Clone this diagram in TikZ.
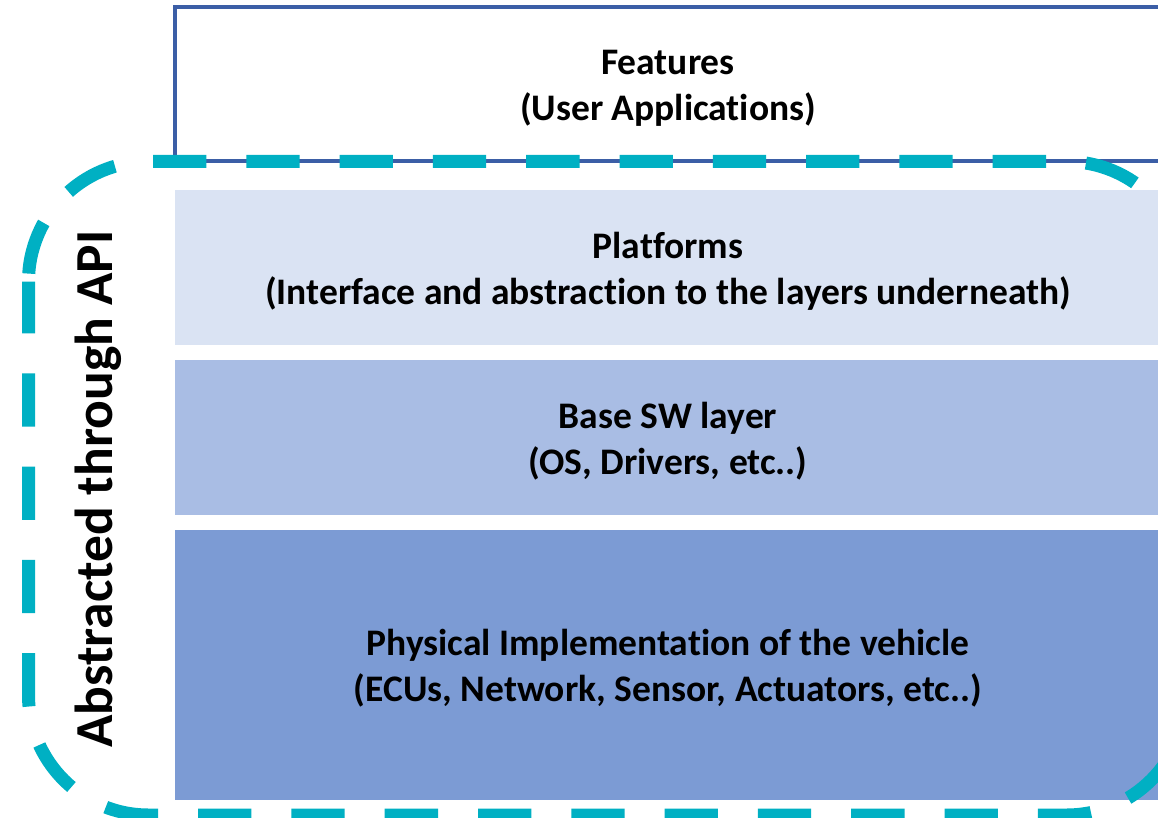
\documentclass[tikz,border=0pt]{standalone}
\usepackage{fontspec}
\setmainfont[Ligatures=NoCommon]{Carlito}
\definecolor{apicyan}{RGB}{0,176,195}
\definecolor{featblue}{RGB}{59,94,166}
\definecolor{platfill}{RGB}{218,227,243}
\definecolor{basefill}{RGB}{169,189,228}
\definecolor{physfill}{RGB}{124,155,212}
\tikzset{
  layer/.style={anchor=north west, draw=none, minimum width=986pt, inner sep=0pt, outer sep=0pt},
  featbox/.style={layer, draw=featblue, line width=4pt, fill=white},
  layertext/.style={align=center, font=\fontsize{37.5}{46}\selectfont\bfseries, text=black, inner sep=0pt},
  apidash/.style={draw=apicyan, line width=13pt, rounded corners=120pt,
    dash pattern=on 53.3pt off 40pt},
  apilabel/.style={rotate=90, anchor=base, font=\fontsize{53.5}{60}\selectfont\bfseries, text=black, inner sep=0pt}
}
\begin{document}
\begin{tikzpicture}[x=1pt,y=-1pt]
\clip (0,0) rectangle (1158,818);
\fill[white] (0,0) rectangle (1158,818);
\node[layer, fill=platfill, minimum height=155pt] (plat) at (175,190) {};
\node[layer, fill=basefill, minimum height=155pt] (base) at (175,360) {};
\node[layer, fill=physfill, minimum height=270pt] (phys) at (175,530) {};
\node[featbox, minimum height=154pt] (feat) at (175,7.5) {};
\node[layertext] (feattext) at ([yshift=-3.5pt]feat.center) {Features\\(User Applications)};
\node[layertext] (plattext) at ([yshift=-3.5pt]plat.center) {Platforms\\(Interface and abstraction to the layers underneath)};
\node[layertext] (basetext) at ([yshift=-3.5pt]base.center) {Base SW layer\\(OS, Drivers, etc..)};
\node[layertext] (phystext) at ([yshift=-3.5pt]phys.center) {Physical Implementation of the vehicle\\(ECUs, Network, Sensor, Actuators, etc..)};
\draw[apidash, dash phase=88.8pt] (148.5,161.5) -- (1186.5,161.5) -- (1186.5,815) -- (28.5,815) -- (28.5,281.5);
\draw[apidash, dash phase=59.3pt] (148.5,161.5) -- (28.5,161.5) -- (28.5,281.5);
\node[apilabel] (api) at (112,489) {Abstracted through API};
\end{tikzpicture}
\end{document}
